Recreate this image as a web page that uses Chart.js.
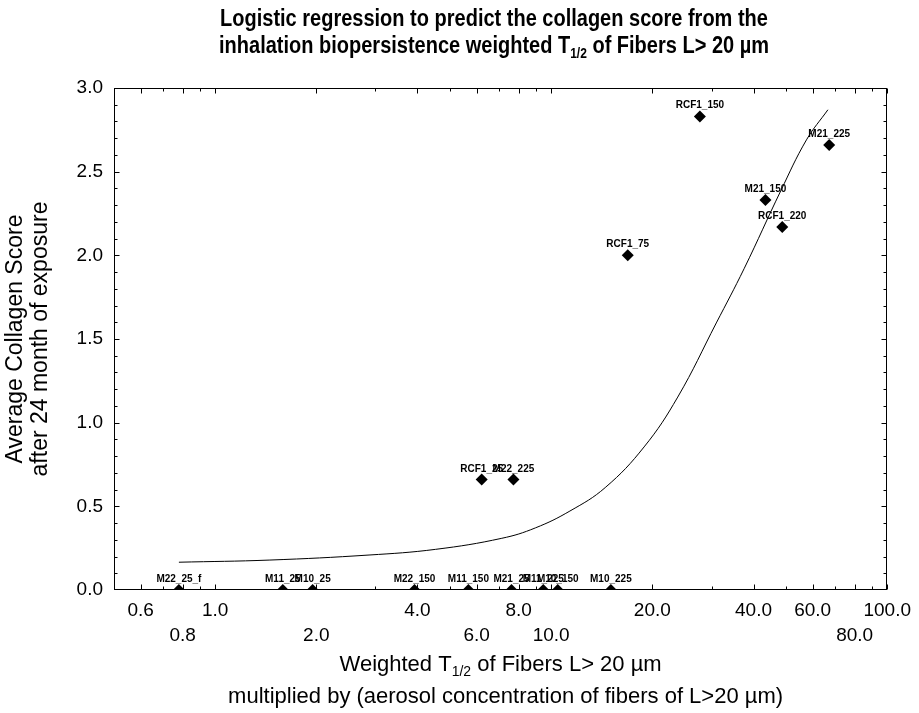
<!DOCTYPE html>
<html>
<head>
<meta charset="utf-8">
<script src="https://cdn.jsdelivr.net/npm/chart.js@4.4.0/dist/chart.umd.min.js"></script>
<style>
  html, body { margin: 0; padding: 0; background: #fff; }
  canvas { display: block; }
</style>
</head>
<body>
<canvas id="chart-collagen" width="919" height="713"></canvas>
<script>
// samples: weighted T1/2 x aerosol concentration, and average collagen score
const sampleNames = ["M22_25_f", "M11_25", "M10_25", "M22_150", "M11_150", "M21_25", "M11_225", "M10_150",
  "M10_225", "RCF1_25", "M22_225", "RCF1_75", "RCF1_150", "M21_150", "RCF1_220", "M21_225"];
const sampleT12 = [0.78, 1.59, 1.95, 3.92, 5.67, 7.62, 9.47, 10.46, 15.05, 6.21, 7.72, 16.9, 27.7, 43.4, 48.7, 67.2];
const sampleScore = [0, 0, 0, 0, 0, 0, 0, 0, 0, 0.66, 0.66, 2.0, 2.83, 2.33, 2.17, 2.66];

// fitted logistic curve
const fitT12 = [0.78, 1.455, 2.87, 4.53, 7.13, 8.97, 11.37, 14.48, 18.9, 23.8, 31.0, 37.5, 48.2, 57.5, 66.6];
const fitScore = [0.166, 0.179, 0.209, 0.243, 0.309, 0.371, 0.472, 0.612, 0.855, 1.153, 1.596, 1.92, 2.385, 2.69, 2.87];

// axis ticks
const xTickValues = [0.6, 0.8, 1, 2, 4, 6, 8, 10, 20, 40, 60, 80, 100];
const xTickLowRow = [0.8, 2, 6, 10, 80];
const xMinorTicks = [0.5, 0.7, 0.9, 3, 5, 7, 9, 30, 50, 70, 90];
const yTickStep = 0.5;

const FONT = '"Liberation Sans", Arial, sans-serif';

const points = sampleT12.map((x, i) => ({ x: x, y: sampleScore[i] }));
const curve = fitT12.map((x, i) => ({ x: x, y: fitScore[i] }));

// text with a subscript part, centred on cx; stretch makes glyphs taller
function drawRich(ctx, parts, cx, cy, size, weight, stretch) {
  const subSize = Math.round(size * 0.62);
  let total = 0;
  parts.forEach((p) => {
    ctx.font = weight + " " + (p.sub ? subSize : size) + "px " + FONT;
    p.w = ctx.measureText(p.t).width;
    total += p.w;
  });
  ctx.save();
  ctx.translate(0, cy);
  ctx.scale(1, stretch || 1);
  let x = cx - total / 2;
  ctx.textAlign = "left";
  ctx.textBaseline = "middle";
  parts.forEach((p) => {
    ctx.font = weight + " " + (p.sub ? subSize : size) + "px " + FONT;
    ctx.fillText(p.t, x, p.sub ? size * 0.32 : 0);
    x += p.w;
  });
  ctx.restore();
}

// frame + inward tick marks on all four sides
const frameTicks = {
  id: "frameTicks",
  afterDatasetsDraw(chart) {
    const { ctx, chartArea: a } = chart;
    const xs = chart.scales.x;
    const ys = chart.scales.y;
    const L = Math.round(a.left) + 0.5;
    const R = Math.round(a.right) - 0.5;
    const T = Math.round(a.top) + 0.5;
    const B = Math.round(a.bottom) - 0.5;
    ctx.save();
    ctx.strokeStyle = "#000";
    ctx.lineWidth = 1;
    ctx.strokeRect(L, T, R - L, B - T);
    ctx.beginPath();
    const xTick = (v, len) => {
      const px = Math.round(xs.getPixelForValue(v)) + 0.5;
      ctx.moveTo(px, B); ctx.lineTo(px, B - len);
      ctx.moveTo(px, T); ctx.lineTo(px, T + len);
    };
    xTickValues.forEach((v) => xTick(v, 5));
    xMinorTicks.forEach((v) => xTick(v, 3));
    for (let i = 1; i < 30; i++) {
      const py = Math.round(ys.getPixelForValue(i / 10)) + 0.5;
      const len = i % 5 === 0 ? 5 : 3;
      ctx.moveTo(L, py); ctx.lineTo(L + len, py);
      ctx.moveTo(R, py); ctx.lineTo(R - len, py);
    }
    ctx.stroke();
    ctx.restore();
  },
};

// sample names above the diamonds
const pointNames = {
  id: "pointNames",
  afterDraw(chart) {
    const { ctx } = chart;
    const meta = chart.getDatasetMeta(0);
    ctx.save();
    ctx.fillStyle = "#000";
    ctx.font = "bold 10px " + FONT;
    ctx.textAlign = "center";
    ctx.textBaseline = "alphabetic";
    meta.data.forEach((el, i) => {
      ctx.fillText(sampleNames[i], el.x, el.y - 8);
    });
    ctx.restore();
  },
};

// chart title and axis titles
const titles = {
  id: "titles",
  afterDraw(chart) {
    const { ctx, chartArea: a } = chart;
    const cx = (a.left + a.right) / 2;
    ctx.save();
    ctx.fillStyle = "#000";
    drawRich(ctx, [{ t: "Logistic regression to predict the collagen score from the" }], 494, 20, 20, "bold", 1.15);
    drawRich(ctx, [
      { t: "inhalation biopersistence weighted T" },
      { t: "1/2", sub: true },
      { t: " of Fibers L> 20 µm" },
    ], 494, 47, 20, "bold", 1.15);

    drawRich(ctx, [
      { t: "Weighted T" },
      { t: "1/2", sub: true },
      { t: " of Fibers L> 20 µm" },
    ], cx, 665, 22, "normal");
    drawRich(ctx, [{ t: "multiplied by (aerosol concentration of fibers of L>20 µm)" }], cx + 5, 697, 22, "normal");

    const cy = (a.top + a.bottom) / 2;
    ctx.translate(0, cy);
    ctx.rotate(-Math.PI / 2);
    drawRich(ctx, [{ t: "Average Collagen Score" }], 0, 16, 23, "normal");
    drawRich(ctx, [{ t: "after 24 month of exposure" }], 0, 41, 23, "normal");
    ctx.restore();
  },
};

const ctx = document.getElementById("chart-collagen").getContext("2d");
const collagenChart = new Chart(ctx, {
  type: "scatter",
  data: {
    datasets: [
      {
        label: "samples",
        data: points,
        pointStyle: "rectRot",
        pointRadius: 6,
        backgroundColor: "#000",
        borderColor: "#000",
        borderWidth: 0,
        clip: 0,
      },
      {
        label: "logistic fit",
        data: curve,
        showLine: true,
        pointRadius: 0,
        borderColor: "#000",
        borderWidth: 1,
        tension: 0.4,
        clip: 0,
      },
    ],
  },
  options: {
    responsive: false,
    animation: false,
    events: [],
    devicePixelRatio: 1,
    layout: { padding: { top: 88, right: 26, left: 0, bottom: 0 } },
    plugins: {
      legend: { display: false },
      tooltip: { enabled: false },
      title: { display: false },
    },
    scales: {
      x: {
        type: "logarithmic",
        min: 0.5,
        max: 100,
        grid: { display: false, drawTicks: false },
        border: { display: false },
        afterBuildTicks: (scale) => {
          scale.ticks = xTickValues.map((v) => ({ value: v }));
        },
        afterFit: (scale) => {
          scale.height = 123;
        },
        ticks: {
          autoSkip: false,
          maxRotation: 0,
          padding: 8,
          color: "#000",
          font: { family: FONT, size: 19, lineHeight: 1.32 },
          callback: (v) => {
            const label = Number(v).toFixed(1);
            return xTickLowRow.includes(Number(v)) ? ["", label] : [label, ""];
          },
        },
      },
      y: {
        min: 0,
        max: 3,
        grid: { display: false, drawTicks: false },
        border: { display: false },
        afterFit: (scale) => {
          scale.width = 114;
        },
        ticks: {
          stepSize: yTickStep,
          padding: 11,
          color: "#000",
          font: { family: FONT, size: 19 },
          callback: (v) => Number(v).toFixed(1),
        },
      },
    },
  },
  plugins: [frameTicks, pointNames, titles],
});
</script>
</body>
</html>
